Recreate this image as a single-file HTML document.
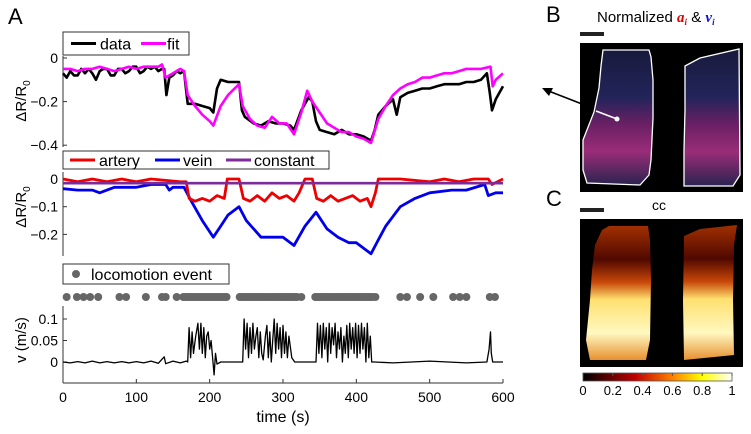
<!DOCTYPE html>
<html><head><meta charset="utf-8"><style>
body{margin:0;background:#fff}
svg{display:block;font-family:"Liberation Sans",sans-serif}
</style></head><body>
<svg id="fig" width="751" height="434" viewBox="0 0 751 434">
<defs>
<linearGradient id="gB" x1="0" y1="0" x2="0" y2="1">
<stop offset="0" stop-color="#181a3c"/><stop offset="0.35" stop-color="#22245a"/><stop offset="0.55" stop-color="#6a2064"/><stop offset="0.75" stop-color="#9a2c78"/><stop offset="1" stop-color="#2a2450"/></linearGradient>
<linearGradient id="gC" x1="0" y1="0" x2="0" y2="1">
<stop offset="0" stop-color="#a03000"/><stop offset="0.25" stop-color="#500800"/><stop offset="0.42" stop-color="#c84808"/><stop offset="0.55" stop-color="#ffe070"/><stop offset="0.8" stop-color="#fff8c0"/><stop offset="1" stop-color="#e89030"/></linearGradient>
<linearGradient id="gHot" x1="0" y1="0" x2="1" y2="0">
<stop offset="0" stop-color="#000"/><stop offset="0.35" stop-color="#c00000"/><stop offset="0.6" stop-color="#ff8000"/><stop offset="0.8" stop-color="#ffff00"/><stop offset="1" stop-color="#ffffff"/></linearGradient>
</defs>
<g id="panelA"></g>
<text x="8" y="24" font-size="22">A</text>
<text x="546" y="22" font-size="22">B</text>
<text x="546" y="206" font-size="22">C</text>
<rect x="580" y="32" width="24" height="4" fill="#222"/>
<text x="597" y="22" font-size="15">Normalized <tspan fill="#e00000" font-style="italic" font-weight="bold" font-family="Liberation Serif">a<tspan font-size="9" dy="3">i</tspan></tspan><tspan dy="-3"> &amp; </tspan><tspan fill="#1010d0" font-style="italic" font-weight="bold" font-family="Liberation Serif">v<tspan font-size="9" dy="3">i</tspan></tspan></text>
<g>
<rect x="580" y="43" width="163" height="149" fill="#000"/>
<polygon points="603,50 649,50 651,57 653,80 653,118 651,160 649,175 640,185 587,183 583,170 583,140 594,112 599,88 601,66" fill="url(#gB)" stroke="#fff" stroke-width="1.3"/>
<polygon points="685,66 700,58 739,49 740,175 733,186 684,186 684,150 685,110" fill="url(#gB)" stroke="#fff" stroke-width="1.3"/>
<line x1="596" y1="111" x2="617" y2="119" stroke="#fff" stroke-width="1.5"/>
<circle cx="617" cy="119" r="2.5" fill="#fff"/>
</g>
<g>
<line x1="582" y1="104" x2="546" y2="90" stroke="#000" stroke-width="1.6"/>
<polygon points="542,88 553,88 549,96" fill="#000"/>
</g>
<rect x="580" y="208" width="24" height="4" fill="#222"/>
<text x="652" y="210" font-size="14">cc</text>
<g>
<rect x="580" y="219" width="163" height="148" fill="#000"/>
<polygon points="609,226 648,226 650,240 651,280 650,340 646,360 590,360 586,340 590,300 592,270 595,245 602,230" fill="url(#gC)"/>
<polygon points="684,236 700,229 737,225 734,245 733,300 734,355 684,360 683,300" fill="url(#gC)"/>
</g>
<g>
<rect x="583" y="373" width="149" height="8" fill="url(#gHot)" stroke="#555" stroke-width="0.8"/>
</g>
<g id="cbticks"></g>
</svg>
<script>
const NS="http://www.w3.org/2000/svg";
const timeTicks=[0,100,200,300,400,500,600];
const dataT=[0,5,10,15,20,25,30,35,40,45,50,55,60,65,70,75,80,85,90,95,100,105,110,115,120,125,130,135,138,141,145,150,155,160,165,168,170,180,190,200,205,210,215,225,240,244,248,260,270,280,290,300,310,315,325,335,340,345,350,360,370,380,390,400,410,420,425,430,440,450,455,460,470,480,490,500,510,520,530,540,550,560,570,578,582,585,590,595,600];
const dataV=[-0.07,-0.09,-0.06,-0.08,-0.08,-0.05,-0.07,-0.05,-0.07,-0.1,-0.06,-0.05,-0.05,-0.08,-0.08,-0.05,-0.05,-0.07,-0.06,-0.04,-0.04,-0.07,-0.06,-0.04,-0.05,-0.04,-0.06,-0.05,-0.05,-0.17,-0.09,-0.08,-0.06,-0.07,-0.06,-0.15,-0.21,-0.21,-0.22,-0.23,-0.25,-0.14,-0.1,-0.11,-0.11,-0.24,-0.27,-0.3,-0.31,-0.29,-0.3,-0.3,-0.31,-0.33,-0.24,-0.18,-0.2,-0.29,-0.33,-0.34,-0.35,-0.33,-0.35,-0.35,-0.36,-0.38,-0.33,-0.26,-0.22,-0.19,-0.26,-0.18,-0.16,-0.15,-0.14,-0.14,-0.13,-0.12,-0.12,-0.12,-0.11,-0.11,-0.1,-0.07,-0.16,-0.24,-0.19,-0.16,-0.13];
const fitT=[0,10,20,30,40,50,60,70,80,90,100,110,120,130,135,140,150,160,165,170,180,190,200,205,215,225,240,245,255,265,275,285,295,305,315,325,333,340,350,360,370,380,390,400,410,420,430,440,450,460,470,480,490,500,510,520,530,540,550,560,570,583,586,590,600];
const fitV=[-0.05,-0.05,-0.06,-0.05,-0.05,-0.04,-0.05,-0.06,-0.05,-0.04,-0.05,-0.04,-0.04,-0.04,-0.03,-0.09,-0.07,-0.05,-0.06,-0.17,-0.22,-0.26,-0.29,-0.31,-0.22,-0.17,-0.12,-0.22,-0.28,-0.31,-0.32,-0.27,-0.3,-0.3,-0.35,-0.25,-0.15,-0.2,-0.25,-0.3,-0.32,-0.34,-0.34,-0.36,-0.37,-0.39,-0.28,-0.22,-0.17,-0.14,-0.12,-0.11,-0.09,-0.09,-0.08,-0.07,-0.07,-0.06,-0.05,-0.05,-0.05,-0.04,-0.13,-0.1,-0.07];
const artT=[0,20,40,60,80,100,120,140,160,168,172,180,190,200,210,220,224,240,246,255,265,275,285,295,305,315,322,330,340,346,355,365,375,385,395,405,415,420,426,430,460,500,520,540,560,580,585,600];
const artV=[0,-0.01,0,-0.01,0,-0.01,0,-0.005,-0.01,-0.01,-0.07,-0.08,-0.07,-0.08,-0.06,-0.07,0,0,-0.07,-0.08,-0.06,-0.08,-0.05,-0.07,-0.06,-0.08,-0.05,0,0,-0.07,-0.08,-0.06,-0.08,-0.07,-0.06,-0.08,-0.07,-0.1,-0.05,0,0,-0.01,0,-0.01,0,0,-0.02,0];
const veinT=[0,20,40,50,70,100,120,140,145,150,165,175,190,205,215,225,240,250,270,290,300,315,330,345,360,375,390,400,420,430,440,460,480,500,530,550,575,580,590,600];
const veinV=[-0.035,-0.04,-0.04,-0.05,-0.03,-0.03,-0.02,-0.02,-0.04,-0.03,-0.03,-0.08,-0.15,-0.21,-0.17,-0.13,-0.1,-0.15,-0.21,-0.21,-0.21,-0.24,-0.17,-0.12,-0.18,-0.21,-0.23,-0.23,-0.27,-0.22,-0.17,-0.1,-0.07,-0.05,-0.04,-0.04,-0.02,-0.06,-0.05,-0.05];
const constV=[-0.015,-0.015];
const locoT=[5,19,28,37,48,77,86,113,135,140,155,164,167,170,173,176,179,182,185,188,191,194,197,200,203,206,209,212,215,218,221,223,241,244,247,250,253,256,259,262,265,268,271,274,277,280,283,286,289,292,295,298,301,304,307,310,313,316,319,325,344,347,350,353,356,359,362,365,368,371,374,377,380,383,386,389,392,395,398,401,404,407,410,413,416,419,422,426,460,469,487,505,532,541,550,582,589];
const speedT=[0,10,20,30,40,50,60,70,80,90,100,110,120,130,138,140,150,160,168,170,172,174,176,178,181,184,186,188,190,192,194,196,198,200,202,204,206,208,210,215,230,245,247,249,251,253,255,257,259,261,263,265,267,269,271,273,276,278,280,282,284,286,288,290,292,294,296,298,300,302,304,306,308,312,316,330,345,347,349,351,353,355,357,359,361,363,365,367,369,371,373,375,377,379,381,383,385,387,389,391,393,395,397,399,401,403,405,407,409,411,413,415,417,419,421,425,450,500,550,578,581,583,584,586,590,600];
const speedV=[0,-0.002,0.001,-0.002,0.002,-0.002,0.001,-0.002,0.001,-0.002,0.001,-0.002,0.002,-0.003,0.012,-0.004,0.002,-0.002,0.002,0,0.08,0.01,0.07,0.02,0.06,0.09,0.03,0.09,0.02,0.08,0.01,0.06,0.07,0.03,0.05,0.01,-0.03,0.02,-0.005,0,0,0,0.1,0.03,0.09,0.01,0.08,0.02,0.09,0.03,0.06,0.08,0.01,0.07,0.02,0.005,0.06,0.085,0.01,0.07,0,0.05,0.1,0.02,0.09,0.03,0.08,0.01,0.085,0.02,0.07,0.01,0.06,0.01,0,0,0,0.09,0.02,0.085,0.01,0.09,0.03,0.08,0,0.09,0.02,0.08,0.04,0.09,0.01,0.07,0.03,0.08,0,0.06,0.02,0.085,0.01,0.09,0.03,0.08,0.02,0.09,0.01,0.085,0.02,0.09,0.03,0.08,0,0.09,0.01,0.06,0,0,-0.002,0.002,-0.002,0,0.03,0.07,0.02,0,0,0];
const p1Ticks=[0,-0.2,-0.4], p2Ticks=[0,-0.1,-0.2], p3Ticks=[0.1,0.05,0];
const cbTicks=[0,0.2,0.4,0.6,0.8,1];

const svg=document.getElementById('panelA');
const X=t=>63+t*440/600;
const Y1=v=>58-v*218;
const Y2=v=>179-v*277;
const Y3=v=>362-v*430;
function mk(tag,attrs,parent){const e=document.createElementNS(NS,tag);for(const k in attrs)e.setAttribute(k,attrs[k]);(parent||svg).appendChild(e);return e;}
function line(ts,vs,Y,color,w,name){
  const pts=ts.map((t,i)=>X(t).toFixed(1)+','+Y(vs[i]).toFixed(1)).join(' ');
  const e=mk('polyline',{points:pts,fill:'none',stroke:color,'stroke-width':w,'stroke-linejoin':'round'});
  
  
}
function yaxis(y0,y1,ticks,Y,fmt,name){
  const g=mk('g',{});
  
  
  mk('line',{x1:63,y1:y0,x2:63,y2:y1,stroke:'#333','stroke-width':1},g);
  ticks.forEach(v=>{mk('line',{x1:63,y1:Y(v),x2:67,y2:Y(v),stroke:'#333'},g);
    const t=mk('text',{x:58,y:Y(v)+5,'font-size':14,'text-anchor':'end'},g);t.textContent=fmt(v).replace('-','\u2212');});
}
function ytitle(cy,html,name){
  const t=mk('text',{x:0,y:0,'font-size':15,'text-anchor':'middle',transform:`translate(26,${cy}) rotate(-90)`});
  t.innerHTML=html;
  
  
}
yaxis(56,147,p1Ticks,Y1,v=>v===0?'0':v.toFixed(1),'y-axis-1');
ytitle(101,'\u0394R/R<tspan font-size="10" dy="4">0</tspan>','y-axis-title-1');
line(dataT,dataV,Y1,'#000',2.6,'data-line');
line(fitT,fitV,Y1,'#ff00ff',2.6,'fit-line');
yaxis(172,256,p2Ticks,Y2,v=>v===0?'0':v.toFixed(1),'y-axis-2');
ytitle(207,'\u0394R/R<tspan font-size="10" dy="4">0</tspan>','y-axis-title-2');
line(veinT,veinV,Y2,'#0000ee',2.8,'vein-line');
line(artT,artV,Y2,'#ee0000',2.8,'artery-line');
line([0,600],constV,Y2,'#7d2a9a',2.6,'constant-line');
yaxis(306,383,p3Ticks,Y3,v=>v===0?'0':String(v),'y-axis-3');
ytitle(340,'v (m/s)','y-axis-title-3');
line(speedT,speedV,Y3,'#000',1.3,'speed-line');
locoT.forEach(t=>{const c=mk('circle',{cx:X(t),cy:297,r:4,fill:'#666'});
  
  });
const xa=mk('g',{});


mk('line',{x1:63,y1:383,x2:503,y2:383,stroke:'#333'},xa);
timeTicks.forEach(t=>{mk('line',{x1:X(t),y1:383,x2:X(t),y2:379,stroke:'#333'},xa);
  const e=mk('text',{x:X(t),y:402,'font-size':14,'text-anchor':'middle'},xa);e.textContent=t;});
const xt=mk('text',{x:283,y:422,'font-size':16,'text-anchor':'middle'});
xt.textContent='time (s)';


function legend(x,y,w,h,items,name){
  const g=mk('g',{});
  
  
  mk('rect',{x,y,width:w,height:h,fill:'#fff',stroke:'#333','stroke-width':1},g);
  items.forEach(it=>{
    if(it.dot)mk('circle',{cx:it.x+6,cy:y+h/2,r:4,fill:it.c},g);
    else mk('line',{x1:it.x,y1:y+h/2,x2:it.x+25,y2:y+h/2,stroke:it.c,'stroke-width':3},g);
    const t=mk('text',{x:it.tx,y:y+h/2+6,'font-size':16},g);t.textContent=it.l;});
}
legend(63,32,126,23,[{x:71,tx:100,c:'#000',l:'data'},{x:141,tx:167,c:'#ff00ff',l:'fit'}],'legend-1');
legend(63,151,266,18,[{x:70,tx:99,c:'#ee0000',l:'artery'},{x:155,tx:183,c:'#0000ee',l:'vein'},{x:226,tx:254,c:'#7d2a9a',l:'constant'}],'legend-2');
legend(63,264,166,20,[{x:70,tx:91,c:'#666',l:'locomotion event',dot:1}],'legend-3');
const cb=document.getElementById('cbticks');
cbTicks.forEach(v=>{const x=583+v*149;
  mk('line',{x1:x,y1:373,x2:x,y2:376,stroke:'#555'},cb);
  const t=mk('text',{x:x,y:395,'font-size':13,'text-anchor':'middle'},cb);t.textContent=String(v);});
</script>
</body></html>
